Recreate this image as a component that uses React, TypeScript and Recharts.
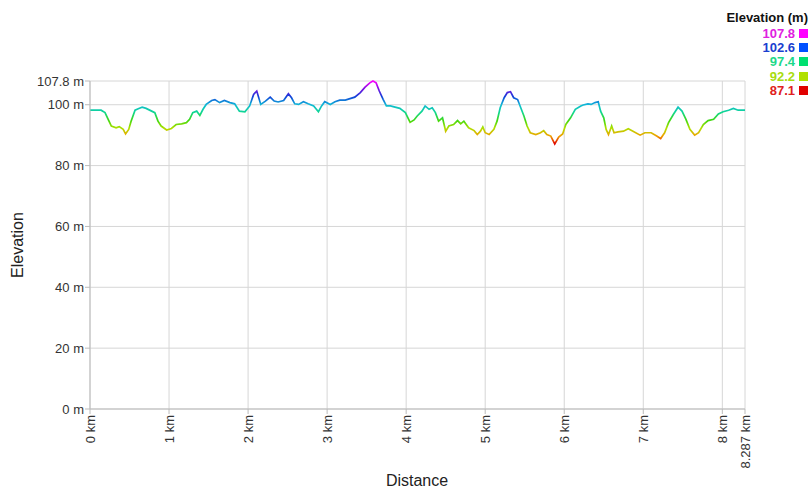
import { LineChart, Line, XAxis, YAxis, CartesianGrid } from 'recharts';

// distance along the track (km) and elevation (m)
const distances = [
  0, 0.14, 0.19, 0.23, 0.27, 0.33, 0.37, 0.42, 0.45, 0.49, 0.52, 0.57, 0.61, 0.66, 0.71, 0.78, 0.82, 0.86, 0.9, 0.97,
  1.03, 1.09, 1.16, 1.22, 1.26, 1.3, 1.35, 1.39, 1.43, 1.47, 1.54, 1.58, 1.64, 1.7, 1.77, 1.83, 1.89, 1.96,
  2.02, 2.07, 2.11, 2.16, 2.22, 2.28, 2.33, 2.38, 2.45, 2.51, 2.55, 2.59, 2.64, 2.7, 2.76, 2.83, 2.89, 2.93, 2.97,
  3.04, 3.1, 3.16, 3.23, 3.29, 3.35, 3.42, 3.48, 3.54, 3.58, 3.62, 3.66, 3.71, 3.75, 3.8, 3.86, 3.92, 3.99,
  4.05, 4.1, 4.14, 4.2, 4.24, 4.29, 4.33, 4.37, 4.41, 4.46, 4.5, 4.54, 4.6, 4.65, 4.69, 4.73, 4.79, 4.86, 4.9, 4.94, 4.97,
  5.0, 5.05, 5.11, 5.15, 5.19, 5.24, 5.28, 5.32, 5.36, 5.41, 5.45, 5.49, 5.53, 5.57, 5.64, 5.7, 5.74, 5.78, 5.83, 5.88, 5.93, 5.98,
  6.02, 6.08, 6.14, 6.21, 6.24, 6.3, 6.34, 6.39, 6.43, 6.46, 6.5, 6.53, 6.56, 6.6, 6.63, 6.68, 6.75, 6.81, 6.87, 6.96,
  7.02, 7.1, 7.17, 7.22, 7.27, 7.32, 7.38, 7.44, 7.49, 7.54, 7.59, 7.65, 7.7, 7.76, 7.82, 7.89, 7.95,
  8.01, 8.08, 8.14, 8.2, 8.287,
];

const elevations = [
  98.2, 98.2, 97.4, 95.2, 93.0, 92.4, 92.8, 91.9, 90.4, 91.9, 94.6, 98.2, 98.7, 99.2, 98.8, 97.9, 97.4, 94.6, 93.0, 91.7,
  92.2, 93.5, 93.7, 94.1, 95.2, 97.4, 97.9, 96.5, 98.5, 100.1, 101.4, 101.7, 100.7, 101.4, 100.7, 100.3, 97.9, 97.7,
  99.6, 103.4, 104.5, 100.1, 101.2, 102.5, 101.2, 100.9, 101.4, 103.6, 102.3, 100.3, 100.1, 101.0, 100.3, 99.6, 97.7, 99.6, 101.0,
  100.1, 101.0, 101.5, 101.5, 102.0, 102.5, 104.0, 105.8, 107.2, 107.8, 107.2, 104.5, 101.7, 99.6, 99.6, 99.2, 98.8, 97.4,
  94.2, 95.0, 96.3, 97.9, 99.6, 98.5, 99.0, 97.4, 94.6, 95.7, 91.3, 93.0, 93.5, 94.8, 93.7, 94.6, 92.4, 91.5, 90.2, 91.3, 92.7,
  90.8, 90.2, 91.9, 94.6, 99.0, 102.3, 104.0, 104.3, 102.3, 101.7, 99.0, 96.3, 93.0, 90.8, 90.2, 90.8, 91.5, 90.2, 89.7, 87.1, 89.4, 90.4,
  93.5, 95.7, 98.5, 99.6, 99.9, 100.3, 100.1, 100.7, 101.0, 97.9, 95.7, 91.9, 90.2, 93.0, 90.8, 91.1, 91.3, 92.1, 91.3, 90.0,
  90.8, 90.8, 89.7, 88.9, 90.8, 94.1, 96.8, 99.2, 97.9, 95.2, 91.9, 90.0, 90.8, 93.5, 94.8, 95.2, 97.0,
  97.7, 98.2, 98.8, 98.2, 98.2,
];

const yTicks = [0, 20, 40, 60, 80, 100, 107.8];
const xTicks = [0, 1, 2, 3, 4, 5, 6, 7, 8, 8.287];
const legendValues = ['107.8', '102.6', '97.4', '92.2', '87.1'];

const legendColors = ['#e020e0', '#1a3fd0', '#1dd88a', '#a8dc10', '#e02020'];
const swatchColors = ['#ff00ff', '#0050ff', '#00e070', '#b0e000', '#e00000'];
const FONT = '"Liberation Sans", Arial, sans-serif';

const data = distances.map((d, i) => ({ d, e: elevations[i] }));

const XTick = ({ x, y, payload }: any) => {
  const v = payload.value;
  const label = Number.isInteger(v) ? `${v} km` : `${v.toFixed(3)} km`;
  return (
    <text
      x={x}
      y={y}
      transform={`rotate(-90, ${x}, ${y})`}
      textAnchor="end"
      dominantBaseline="central"
      fontSize={13}
      fontFamily={FONT}
      fill="#333"
    >
      {label}
    </text>
  );
};

export default function App() {
  return (
    <div style={{ position: 'absolute', left: 0, top: 0, width: 811, height: 495, background: '#fff' }}>
      <LineChart width={811} height={495} data={data} margin={{ top: 81, right: 66, bottom: 26, left: 30 }}>
        <defs>
          <linearGradient id="elevGradient" x1="0" y1="0" x2="0" y2="1">
            <stop offset="0" stopColor="#ff00ff" />
            <stop offset="0.125" stopColor="#7a10e0" />
            <stop offset="0.25" stopColor="#1040d8" />
            <stop offset="0.375" stopColor="#10b8d8" />
            <stop offset="0.5" stopColor="#10d890" />
            <stop offset="0.625" stopColor="#40d810" />
            <stop offset="0.75" stopColor="#b0e000" />
            <stop offset="0.875" stopColor="#f0a000" />
            <stop offset="1" stopColor="#e00000" />
          </linearGradient>
        </defs>
        <CartesianGrid stroke="#d6d6d6" horizontalValues={yTicks} verticalValues={xTicks} />
        <XAxis
          dataKey="d"
          type="number"
          domain={[0, 8.287]}
          ticks={xTicks}
          interval={0}
          tick={<XTick />}
          tickSize={5}
          tickMargin={1}
          height={60}
          stroke="#bbb"
          label={{
            content: () => (
              <text x={417} y={486} textAnchor="middle" fontSize={16} fontFamily={FONT} fill="#222">
                Distance
              </text>
            ),
          }}
        />
        <YAxis
          type="number"
          domain={[0, 107.8]}
          ticks={yTicks}
          interval={0}
          width={60}
          tickSize={5}
          tickMargin={1}
          stroke="#bbb"
          tick={{ fontSize: 13, fontFamily: FONT, fill: '#333' }}
          tickFormatter={(v) => `${v} m`}
          label={{
            content: () => (
              <text
                x={23}
                y={245}
                transform="rotate(-90, 23, 245)"
                textAnchor="middle"
                fontSize={16}
                fontFamily={FONT}
                fill="#222"
              >
                Elevation
              </text>
            ),
          }}
        />
        <Line
          type="linear"
          dataKey="e"
          stroke="url(#elevGradient)"
          strokeWidth={1.7}
          dot={false}
          activeDot={false}
          isAnimationActive={false}
        />
      </LineChart>
      <div style={{ position: 'absolute', right: 3, top: 9, fontFamily: FONT, textAlign: 'right' }}>
        <div style={{ fontSize: 13, fontWeight: 'bold', color: '#111', lineHeight: '17px' }}>Elevation (m)</div>
        {legendValues.map((v, i) => (
          <div
            key={v}
            style={{ display: 'flex', justifyContent: 'flex-end', alignItems: 'center', height: 14.3, fontSize: 13, fontWeight: 'bold' }}
          >
            <span style={{ color: legendColors[i] }}>{v}</span>
            <span style={{ display: 'inline-block', width: 9, height: 9, marginLeft: 4, background: swatchColors[i] }} />
          </div>
        ))}
      </div>
    </div>
  );
}
